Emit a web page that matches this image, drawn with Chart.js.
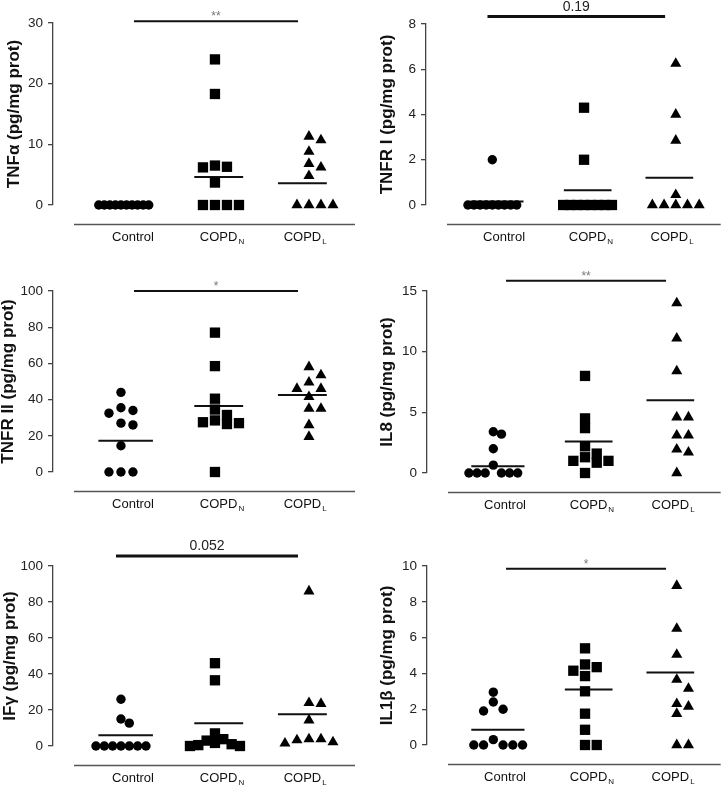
<!DOCTYPE html>
<html>
<head>
<meta charset="utf-8">
<script src="https://cdn.jsdelivr.net/npm/chart.js@4.4.0/dist/chart.umd.min.js"></script>
<style>
  body { margin: 0; background: #fff; }
  #wrap { position: relative; width: 728px; height: 786px; }
  .panel { position: absolute; width: 364px; height: 262px; }
</style>
</head>
<body>
<div id="wrap">
  <div class="panel" style="left:0;top:0"><canvas id="c0" width="364" height="262"></canvas></div>
  <div class="panel" style="left:364px;top:0"><canvas id="c1" width="364" height="262"></canvas></div>
  <div class="panel" style="left:0;top:262px"><canvas id="c2" width="364" height="262"></canvas></div>
  <div class="panel" style="left:364px;top:262px"><canvas id="c3" width="364" height="262"></canvas></div>
  <div class="panel" style="left:0;top:524px"><canvas id="c4" width="364" height="262"></canvas></div>
  <div class="panel" style="left:364px;top:524px"><canvas id="c5" width="364" height="262"></canvas></div>
</div>
<script>
// groups on the x axis (main text + subscript)
const groupNames = ["Control", "COPD", "COPD"];
const groupSubs = ["", "N", "L"];

// one panel per cytokine
const titles = ["TNFα (pg/mg prot)", "TNFR I (pg/mg prot)", "TNFR II (pg/mg prot)",
                "IL8 (pg/mg prot)", "IFγ (pg/mg prot)", "IL1β (pg/mg prot)"];
const yMaxes = [30, 8, 100, 15, 100, 10];
const ySteps = [10, 2, 20, 5, 20, 2];

// significance bar over Control vs COPD_L
const sigLabels = ["**", "0.19", "*", "**", "0.052", "*"];
const sigLevels = [30.3, 8.33, 100, 15.85, 105.6, 9.85];

// TNFα
const tnfaControl = [0, 0, 0, 0, 0, 0, 0, 0, 0, 0];
const tnfaCopdN = [24, 18.3, 6.5, 6.2, 6.3, 3.7, 0, 0, 0, 0];
const tnfaCopdL = [11.3, 10.7, 8.8, 6.8, 6.2, 4.8, 0, 0, 0, 0];
const tnfaLines = [0.15, 4.6, 3.6];

// TNFR I
const tnfr1Control = [2.0, 0, 0, 0, 0, 0, 0, 0, 0, 0];
const tnfr1CopdN = [4.3, 2.0, 0, 0, 0, 0, 0, 0, 0, 0];
const tnfr1CopdL = [6.25, 4.0, 2.85, 0.45, 0, 0, 0, 0, 0];
const tnfr1Lines = [0.15, 0.65, 1.2];

// TNFR II
const tnfr2Control = [44, 35.5, 34, 32.5, 27, 26, 14.5, 0, 0, 0];
const tnfr2CopdN = [77, 58.5, 40.5, 34.5, 31.5, 28.5, 27.5, 27, 26.5, 0];
const tnfr2CopdL = [58, 53.5, 49.5, 46, 46, 41.5, 35, 35, 26, 19.5];
const tnfr2Lines = [17.2, 36.5, 42.5];

// IL8
const il8Control = [3.4, 3.2, 2.0, 0.65, 0, 0, 0, 0, 0, 0];
const il8CopdN = [8.0, 4.5, 3.7, 2.2, 1.6, 1.3, 1.0, 1.0, 0.85, 0];
const il8CopdL = [14, 11.1, 8.4, 4.6, 4.6, 3.1, 3.1, 1.95, 1.7, 0];
const il8Lines = [0.55, 2.6, 6.0];

// IFγ
const ifgControl = [26, 15, 12.7, 0, 0, 0, 0, 0, 0, 0];
const ifgCopdN = [46, 36.5, 7, 3.8, 3, 1.7, 1, 0.5, 0, 0];
const ifgCopdL = [86, 24, 23.5, 14.3, 3.8, 3.8, 3.3, 2.2, 1.5];
const ifgLines = [6.0, 12.6, 17.7];

// IL1β
const il1bControl = [2.95, 2.4, 2.0, 1.9, 0.3, 0, 0, 0, 0, 0];
const il1bCopdN = [5.4, 4.5, 4.35, 4.15, 3.85, 3.0, 1.75, 0.85, 0, 0];
const il1bCopdL = [8.9, 6.5, 5.05, 3.65, 3.15, 2.3, 2.15, 1.75, 0, 0];
const il1bLines = [0.85, 3.1, 4.05];

const panelGroups = [
  [tnfaControl, tnfaCopdN, tnfaCopdL],
  [tnfr1Control, tnfr1CopdN, tnfr1CopdL],
  [tnfr2Control, tnfr2CopdN, tnfr2CopdL],
  [il8Control, il8CopdN, il8CopdL],
  [ifgControl, ifgCopdN, ifgCopdL],
  [il1bControl, il1bCopdN, il1bCopdL]
];
const panelLines = [tnfaLines, tnfr1Lines, tnfr2Lines, il8Lines, ifgLines, il1bLines];

// layout of each panel: plot area edges inside its 364x262 canvas
const layouts = [
  { left: 53, top: 23, bottom: 205, right: 9, titlePad: 4 },
  { left: 62, top: 24, bottom: 205, right: 0, titlePad: 13 },
  { left: 53, top: 29, bottom: 210, right: 9, titlePad: -2 },
  { left: 63, top: 29, bottom: 211, right: 0, titlePad: 13 },
  { left: 53, top: 42, bottom: 222, right: 9, titlePad: 0 },
  { left: 63, top: 42, bottom: 221, right: 0, titlePad: 13 }
];

const FONT = "'Liberation Sans', Arial, Helvetica, sans-serif";
const X_MIN = 0.277;
const PX_PER_CAT = 94;
const SLOT_PX = 12, MAX_SPREAD_PX = 50, HIT_PX = 9;
const LINE_AT = [1.05, 2.04, 2.93];
const LINE_HALF = [0.29, 0.26, 0.26];
const LABEL_AT = [1.128, 2.075, 2.96];
const markers = [
  { style: "circle", radius: 4.7 },
  { style: "rect", radius: 7.3 },
  { style: "triangle", radius: 6.4 }
];

// simple column-scatter spreading: points that would overlap move to side slots
function spread(values, yMax, plotH) {
  const pxPerUnit = plotH / yMax;
  const order = values.map((v, i) => i).sort((a, b) => values[b] - values[a]);
  const tryOrder = [0, 1, -1, 2, -2, 3, -3, 4, -4, 5, -5, 6, -6];
  const placed = [];
  const slots = new Array(values.length);
  order.forEach(i => {
    const y = values[i] * pxPerUnit;
    const s = tryOrder.find(k => !placed.some(p => p.slot === k && Math.abs(p.y - y) < HIT_PX));
    placed.push({ slot: s, y });
    slots[i] = s;
  });
  const lo = Math.min(...slots), hi = Math.max(...slots);
  const stepPx = hi > lo ? Math.min(SLOT_PX, MAX_SPREAD_PX / (hi - lo)) : SLOT_PX;
  return slots.map(k => k * stepPx / PX_PER_CAT);
}

const axisDecor = {
  id: "axisDecor",
  afterDraw(chart, args, opts) {
    const { ctx, chartArea, scales: { x, y } } = chart;
    ctx.save();
    // detached baseline under the groups
    const yLine = chartArea.bottom + 19.5;
    ctx.strokeStyle = "#555";
    ctx.lineWidth = 1.5;
    ctx.beginPath();
    ctx.moveTo(chartArea.left + 21, yLine);
    ctx.lineTo(chartArea.right, yLine);
    ctx.stroke();

    // group labels with subscripts
    ctx.fillStyle = "#111";
    ctx.textBaseline = "alphabetic";
    ctx.textAlign = "left";
    groupNames.forEach((name, i) => {
      ctx.font = "13px " + FONT;
      const w1 = ctx.measureText(name).width;
      ctx.font = "8px " + FONT;
      const w2 = groupSubs[i] ? ctx.measureText(groupSubs[i]).width + 1 : 0;
      const x0 = x.getPixelForValue(LABEL_AT[i]) - (w1 + w2) / 2;
      ctx.font = "13px " + FONT;
      ctx.fillText(name, x0, chartArea.bottom + 36);
      if (groupSubs[i]) {
        ctx.font = "8px " + FONT;
        ctx.fillText(groupSubs[i], x0 + w1 + 1, chartArea.bottom + 39);
      }
    });

    // significance text
    const star = opts.text.indexOf("*") >= 0;
    const cx = (x.getPixelForValue(opts.from) + x.getPixelForValue(opts.to)) / 2;
    const by = y.getPixelForValue(opts.level);
    ctx.textAlign = "center";
    ctx.fillStyle = star ? "#777" : "#222";
    ctx.font = (star ? "12px " : "14px ") + FONT;
    ctx.fillText(opts.text, cx, by - (star ? 1 : 6));
    ctx.restore();
  }
};

panelGroups.forEach((groups, p) => {
  const L = layouts[p];
  const yMax = yMaxes[p];
  const plotH = L.bottom - L.top;
  const plotW = 364 - L.left - L.right;
  const star = sigLabels[p].indexOf("*") >= 0;
  const sigFrom = X_MIN + (star ? 81 : 63) / PX_PER_CAT;
  const sigTo = X_MIN + 245 / PX_PER_CAT;

  const datasets = [];
  groups.forEach((vals, g) => {
    const offs = spread(vals, yMax, plotH);
    datasets.push({
      data: vals.map((v, i) => ({ x: g + 1 + offs[i], y: v })),
      pointStyle: markers[g].style,
      pointRadius: markers[g].radius,
      backgroundColor: "#000",
      borderWidth: 0,
      showLine: false,
      clip: false
    });
  });
  panelLines[p].forEach((m, g) => {
    datasets.push({
      data: [{ x: LINE_AT[g] - LINE_HALF[g], y: m }, { x: LINE_AT[g] + LINE_HALF[g], y: m }],
      showLine: true,
      borderColor: "#111",
      borderWidth: 2,
      pointRadius: 0,
      clip: false
    });
  });
  datasets.push({
    data: [{ x: sigFrom, y: sigLevels[p] }, { x: sigTo, y: sigLevels[p] }],
    showLine: true,
    borderColor: "#111",
    borderWidth: star ? 2 : 3,
    pointRadius: 0,
    clip: false
  });

  new Chart(document.getElementById("c" + p), {
    type: "scatter",
    data: { datasets },
    plugins: [axisDecor],
    options: {
      responsive: false,
      animation: false,
      events: [],
      layout: { padding: { left: 0, top: L.top, right: L.right, bottom: 262 - L.bottom } },
      plugins: {
        legend: { display: false },
        tooltip: { enabled: false },
        axisDecor: { text: sigLabels[p], level: sigLevels[p], from: sigFrom, to: sigTo }
      },
      scales: {
        x: {
          type: "linear",
          display: false,
          min: X_MIN,
          max: X_MIN + plotW / PX_PER_CAT
        },
        y: {
          min: 0,
          max: yMax,
          ticks: { stepSize: ySteps[p], color: "#222", font: { family: FONT, size: 13.5 }, padding: 5 },
          grid: { drawOnChartArea: false, drawTicks: true, tickLength: 5, color: "#444", lineWidth: 1.3 },
          border: { display: true, color: "#444", width: 1.3 },
          title: {
            display: true,
            text: titles[p],
            color: "#111",
            font: { family: FONT, size: 17, weight: "bold" },
            padding: { top: L.titlePad, bottom: 0 }
          },
          afterFit(s) { s.width = L.left; }
        }
      }
    }
  });
});
</script>
</body>
</html>
